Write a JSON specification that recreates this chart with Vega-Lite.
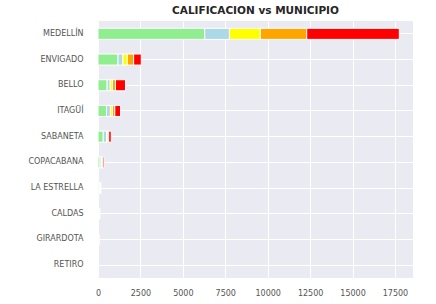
{
  "$schema": "https://vega.github.io/schema/vega-lite/v6.json",
  "width": 315,
  "height": 257,
  "autosize": {"type": "none"},
  "padding": {"left": 98, "top": 21, "right": 23, "bottom": 26},
  "background": "white",
  "title": {"text": "CALIFICACION vs MUNICIPIO", "font": "DejaVu Sans", "fontSize": 10.5, "fontWeight": "bold", "color": "#262626", "anchor": "middle", "offset": 5},
  "config": {
    "view": {"fill": "#EAEAF2", "stroke": null},
    "axis": {"domain": false, "ticks": false, "gridColor": "white", "gridWidth": 1, "gridOpacity": 1, "labelFont": "DejaVu Sans", "labelFontSize": 8, "labelColor": "#555555", "title": null}
  },
  "data": {"values": [
    {"municipio": "MEDELLÍN", "calificacion": "A", "n": 6290},
    {"municipio": "MEDELLÍN", "calificacion": "B", "n": 1455},
    {"municipio": "MEDELLÍN", "calificacion": "C", "n": 1820},
    {"municipio": "MEDELLÍN", "calificacion": "D", "n": 2735},
    {"municipio": "MEDELLÍN", "calificacion": "E", "n": 5455},
    {"municipio": "ENVIGADO", "calificacion": "A", "n": 1180},
    {"municipio": "ENVIGADO", "calificacion": "B", "n": 290},
    {"municipio": "ENVIGADO", "calificacion": "C", "n": 260},
    {"municipio": "ENVIGADO", "calificacion": "D", "n": 370},
    {"municipio": "ENVIGADO", "calificacion": "E", "n": 450},
    {"municipio": "BELLO", "calificacion": "A", "n": 540},
    {"municipio": "BELLO", "calificacion": "B", "n": 180},
    {"municipio": "BELLO", "calificacion": "C", "n": 130},
    {"municipio": "BELLO", "calificacion": "D", "n": 180},
    {"municipio": "BELLO", "calificacion": "E", "n": 590},
    {"municipio": "ITAGÜÍ", "calificacion": "A", "n": 500},
    {"municipio": "ITAGÜÍ", "calificacion": "B", "n": 230},
    {"municipio": "ITAGÜÍ", "calificacion": "C", "n": 120},
    {"municipio": "ITAGÜÍ", "calificacion": "D", "n": 140},
    {"municipio": "ITAGÜÍ", "calificacion": "E", "n": 340},
    {"municipio": "SABANETA", "calificacion": "A", "n": 310},
    {"municipio": "SABANETA", "calificacion": "B", "n": 200},
    {"municipio": "SABANETA", "calificacion": "C", "n": 60},
    {"municipio": "SABANETA", "calificacion": "D", "n": 60},
    {"municipio": "SABANETA", "calificacion": "E", "n": 150},
    {"municipio": "COPACABANA", "calificacion": "A", "n": 120},
    {"municipio": "COPACABANA", "calificacion": "B", "n": 80},
    {"municipio": "COPACABANA", "calificacion": "C", "n": 40},
    {"municipio": "COPACABANA", "calificacion": "D", "n": 50},
    {"municipio": "COPACABANA", "calificacion": "E", "n": 70},
    {"municipio": "LA ESTRELLA", "calificacion": "A", "n": 60},
    {"municipio": "LA ESTRELLA", "calificacion": "B", "n": 40},
    {"municipio": "LA ESTRELLA", "calificacion": "C", "n": 30},
    {"municipio": "LA ESTRELLA", "calificacion": "D", "n": 20},
    {"municipio": "LA ESTRELLA", "calificacion": "E", "n": 20},
    {"municipio": "CALDAS", "calificacion": "A", "n": 40},
    {"municipio": "CALDAS", "calificacion": "B", "n": 30},
    {"municipio": "CALDAS", "calificacion": "C", "n": 15},
    {"municipio": "CALDAS", "calificacion": "D", "n": 10},
    {"municipio": "CALDAS", "calificacion": "E", "n": 10},
    {"municipio": "GIRARDOTA", "calificacion": "A", "n": 25},
    {"municipio": "GIRARDOTA", "calificacion": "B", "n": 20},
    {"municipio": "GIRARDOTA", "calificacion": "C", "n": 10},
    {"municipio": "GIRARDOTA", "calificacion": "D", "n": 5},
    {"municipio": "GIRARDOTA", "calificacion": "E", "n": 5},
    {"municipio": "RETIRO", "calificacion": "A", "n": 5},
    {"municipio": "RETIRO", "calificacion": "B", "n": 3},
    {"municipio": "RETIRO", "calificacion": "C", "n": 2},
    {"municipio": "RETIRO", "calificacion": "D", "n": 1},
    {"municipio": "RETIRO", "calificacion": "E", "n": 1}
  ]},
  "mark": {"type": "bar", "stroke": "white", "strokeWidth": 1},
  "encoding": {
    "y": {"field": "municipio", "type": "nominal", "sort": null,
      "scale": {"paddingInner": 0.57, "paddingOuter": 0.285},
      "axis": {"grid": true, "bandPosition": 0.5, "labelPadding": 15}},
    "x": {"field": "n", "type": "quantitative", "stack": "zero",
      "scale": {"domain": [0, 18562], "nice": false, "zero": true},
      "axis": {"values": [0, 2500, 5000, 7500, 10000, 12500, 15000, 17500], "format": "d", "grid": true, "labelPadding": 11, "labelFlush": false}},
    "color": {"field": "calificacion", "type": "nominal",
      "scale": {"domain": ["A", "B", "C", "D", "E"], "range": ["#90EE90", "#ADD8E6", "#FFFF00", "#FFA500", "#FF0000"]},
      "legend": null},
    "order": {"field": "calificacion", "type": "nominal", "sort": "ascending"}
  }
}
